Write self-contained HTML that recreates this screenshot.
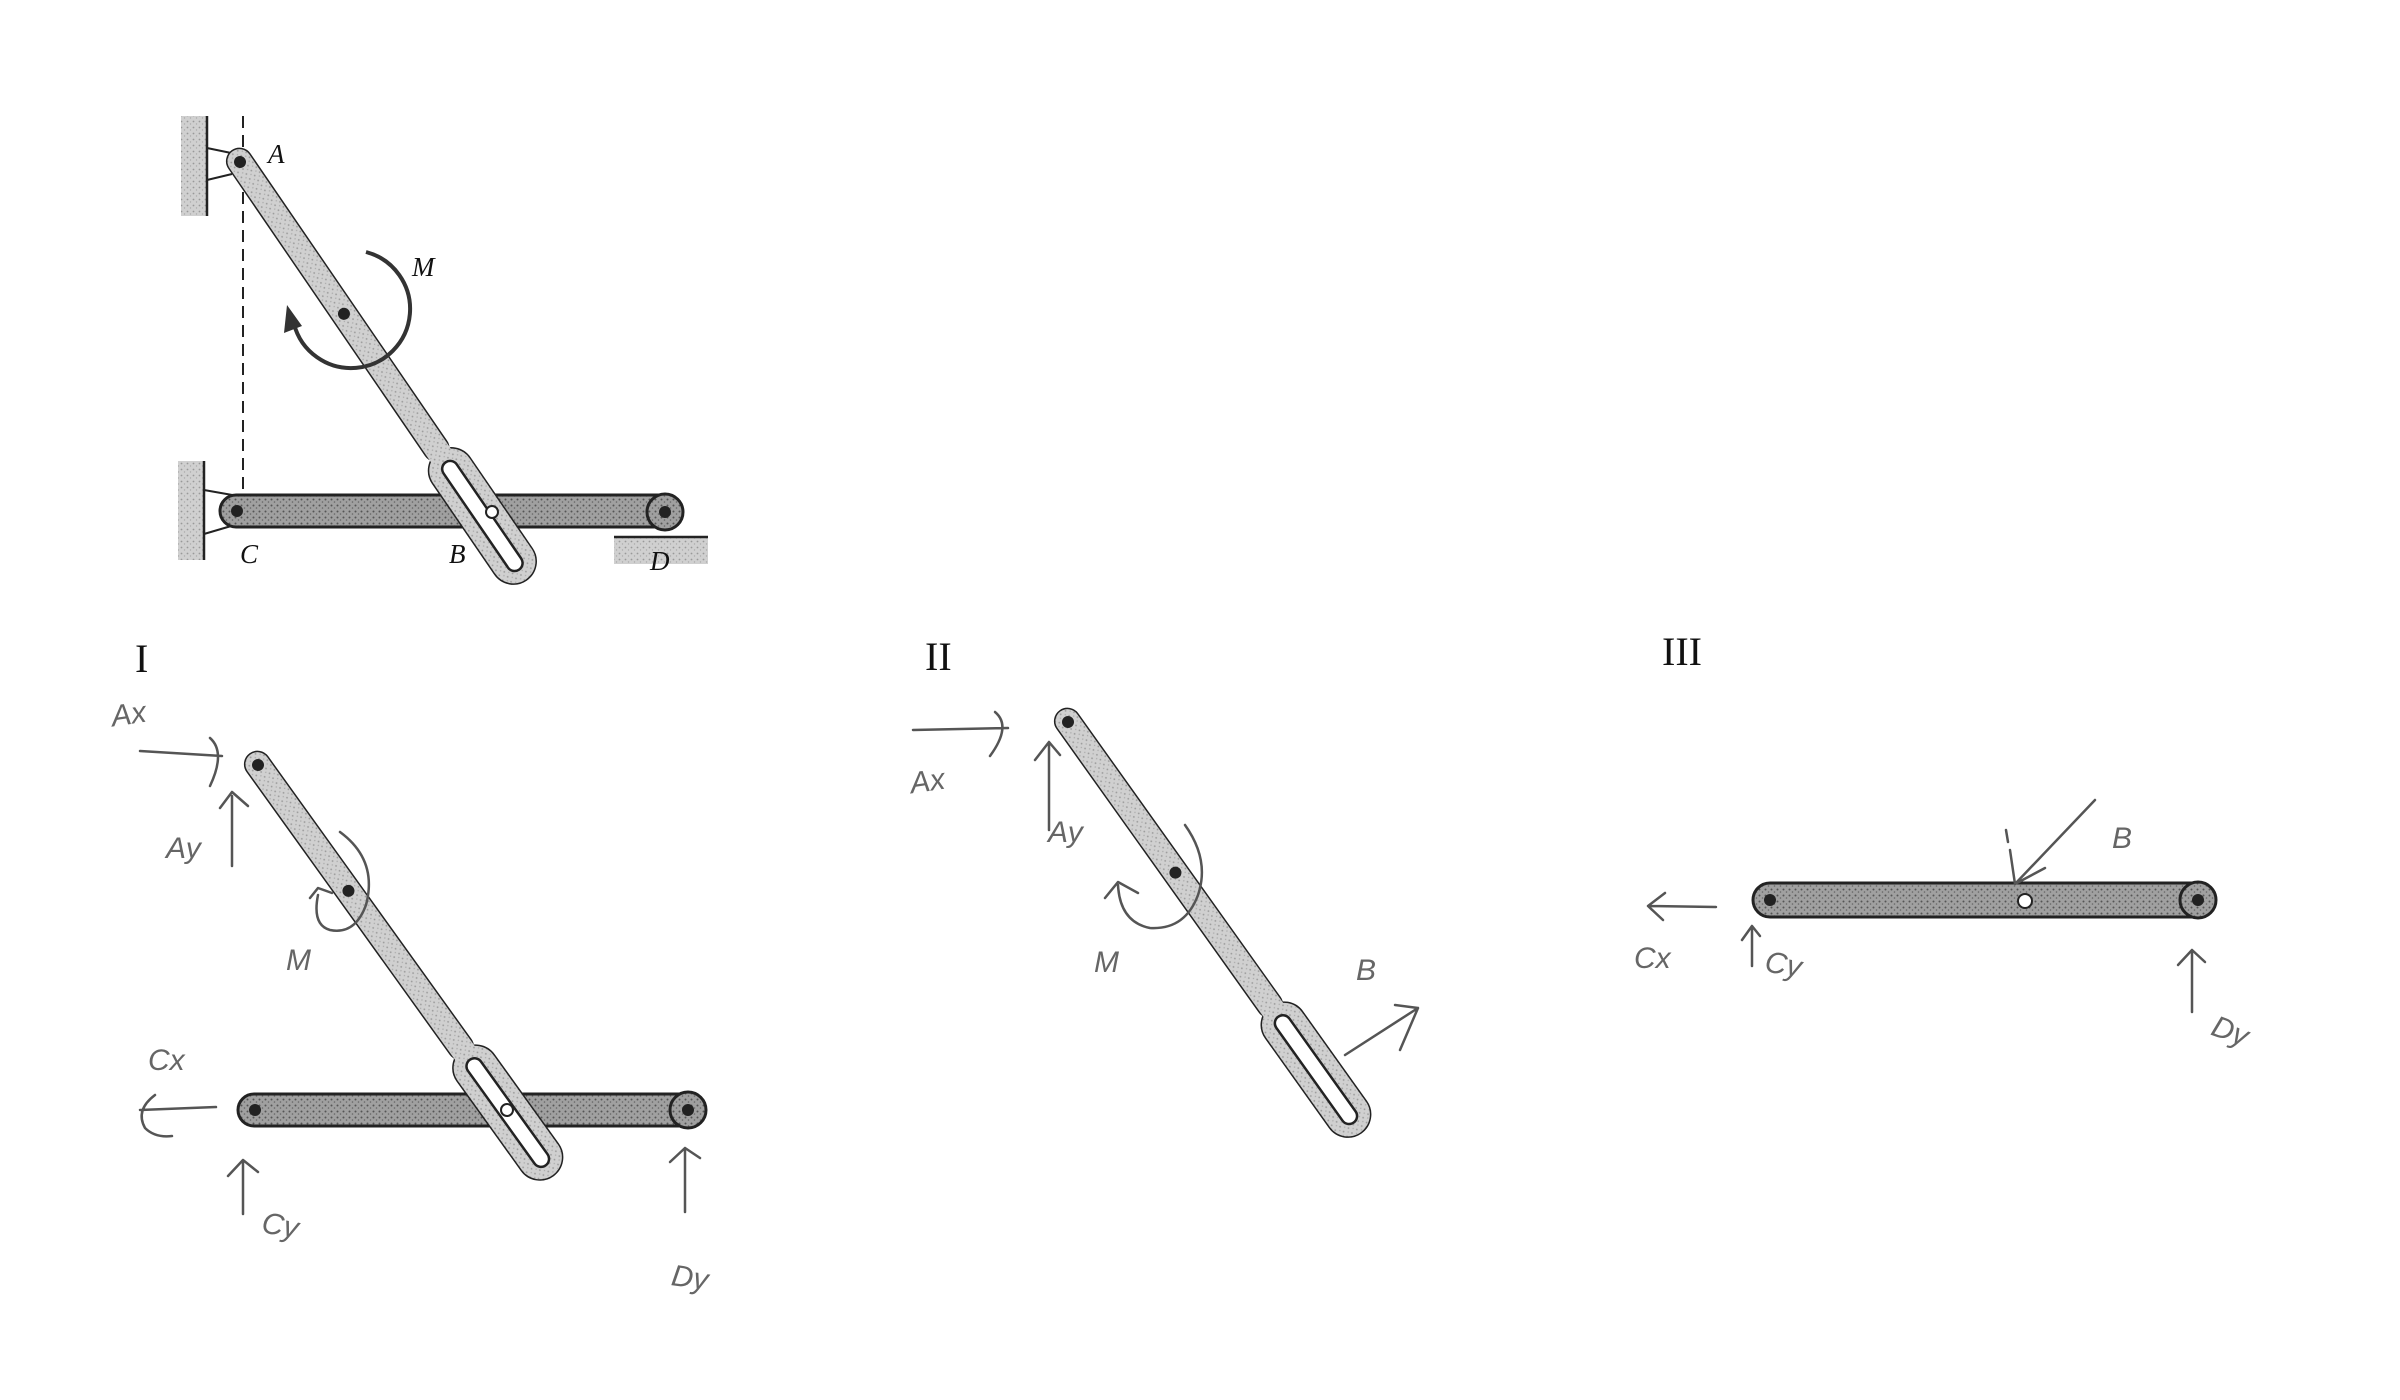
<!DOCTYPE html>
<html><head><meta charset="utf-8"><style>
html,body{margin:0;padding:0;background:#fff;}
svg{display:block}
.lab{font-family:"Liberation Serif",serif;font-style:italic;font-size:27px;fill:#111}
.rom{font-family:"Liberation Serif",serif;font-size:40px;fill:#111}
.hw{font-family:"Liberation Sans",sans-serif;font-style:italic;font-size:30px;fill:#666}
.hl{stroke:#555;stroke-width:2.5;fill:none;stroke-linecap:round;stroke-linejoin:round}
</style></head><body>
<svg width="2400" height="1400" viewBox="0 0 2400 1400" xmlns="http://www.w3.org/2000/svg">
<defs>
<pattern id="tx" width="6" height="6" patternUnits="userSpaceOnUse">
<rect width="6" height="6" fill="#d0d0d0"/><circle cx="1.5" cy="1.5" r="0.9" fill="#999"/><circle cx="4.5" cy="4" r="0.7" fill="#aaa"/>
</pattern>
<pattern id="tb" width="6" height="6" patternUnits="userSpaceOnUse">
<rect width="6" height="6" fill="#a0a0a0"/><circle cx="1.5" cy="1.5" r="1" fill="#555"/><circle cx="4.5" cy="4" r="0.8" fill="#666"/>
</pattern>
</defs>

<!-- ===== TOP FIGURE ===== -->
<rect x="181" y="116" width="26" height="100" fill="url(#tx)"/>
<line x1="207" y1="116" x2="207" y2="216" stroke="#222" stroke-width="2.5"/>
<line x1="207" y1="148" x2="236" y2="154" stroke="#222" stroke-width="2"/>
<line x1="207" y1="180" x2="232" y2="174" stroke="#222" stroke-width="2"/>
<line x1="243" y1="116" x2="243" y2="500" stroke="#222" stroke-width="2" stroke-dasharray="12,7"/>
<rect x="178" y="461" width="26" height="99" fill="url(#tx)"/>
<line x1="204" y1="461" x2="204" y2="560" stroke="#222" stroke-width="2.5"/>
<line x1="204" y1="490" x2="238" y2="496" stroke="#222" stroke-width="2"/>
<line x1="204" y1="534" x2="238" y2="524" stroke="#222" stroke-width="2"/>
<rect x="614" y="538" width="94" height="26" fill="url(#tx)"/>
<line x1="614" y1="537" x2="708" y2="537" stroke="#222" stroke-width="2.5"/>
<rect x="220" y="495" width="462" height="32" rx="16" fill="url(#tb)" stroke="#222" stroke-width="3"/>
<circle cx="665" cy="512" r="18" fill="url(#tb)" stroke="#222" stroke-width="3"/>
<circle cx="237" cy="511" r="6" fill="#222"/><circle cx="665" cy="512" r="6" fill="#222"/>
<g transform="translate(240,162) rotate(55.6)">
<rect x="-13" y="-12" width="372" height="24" rx="12" fill="none" stroke="#222" stroke-width="3"/>
<rect x="352" y="-22" width="154" height="44" rx="22" fill="none" stroke="#222" stroke-width="3"/>
<rect x="-13" y="-12" width="380" height="24" rx="12" fill="url(#tx)"/>
<rect x="352" y="-22" width="154" height="44" rx="22" fill="url(#tx)"/>
<rect x="364" y="-8" width="130" height="16" rx="8" fill="#fff" stroke="#222" stroke-width="2.5"/>
<circle cx="0" cy="0" r="6" fill="#222"/><circle cx="184" cy="0" r="6" fill="#222"/>
</g>
<circle cx="492" cy="512" r="6" fill="#fff" stroke="#222" stroke-width="2"/>
<path d="M366,252 A59,59 0 1 1 294,324" fill="none" stroke="#333" stroke-width="4"/>
<polygon points="287,305 284,333 302,326" fill="#333"/>
<text class="lab" x="268" y="163">A</text>
<text class="lab" x="412" y="276">M</text>
<text class="lab" x="240" y="563">C</text>
<text class="lab" x="449" y="563">B</text>
<text class="lab" x="650" y="570">D</text>

<!-- ===== FIGURE I ===== -->
<text class="rom" x="135" y="672">I</text>
<rect x="238" y="1094" width="467" height="32" rx="16" fill="url(#tb)" stroke="#222" stroke-width="3"/>
<circle cx="688" cy="1110" r="18" fill="url(#tb)" stroke="#222" stroke-width="3"/>
<circle cx="255" cy="1110" r="6" fill="#222"/><circle cx="688" cy="1110" r="6" fill="#222"/>
<g transform="translate(258,765) rotate(54.3)">
<rect x="-13" y="-12" width="372" height="24" rx="12" fill="none" stroke="#222" stroke-width="3"/>
<rect x="351" y="-22" width="154" height="44" rx="22" fill="none" stroke="#222" stroke-width="3"/>
<rect x="-13" y="-12" width="380" height="24" rx="12" fill="url(#tx)"/>
<rect x="351" y="-22" width="154" height="44" rx="22" fill="url(#tx)"/>
<rect x="363" y="-8" width="130" height="16" rx="8" fill="#fff" stroke="#222" stroke-width="2.5"/>
<circle cx="0" cy="0" r="6" fill="#222"/><circle cx="155" cy="0" r="6" fill="#222"/>
</g>
<circle cx="507" cy="1110" r="6" fill="#fff" stroke="#222" stroke-width="2"/>
<path class="hl" d="M140,751 L222,756 M210,738 Q226,752 210,786"/>
<text class="hw" x="112" y="724" transform="rotate(-8 130 720)">Ax</text>
<path class="hl" d="M232,866 L232,796 M220,808 L232,792 L248,806"/>
<text class="hw" x="166" y="858">Ay</text>
<path class="hl" d="M340,832 Q378,860 366,905 Q355,935 330,930 Q312,925 318,895 M310,898 L318,888 L332,893"/>
<text class="hw" x="286" y="970">M</text>
<path class="hl" d="M216,1107 L140,1110 M155,1095 Q135,1110 145,1128 Q155,1138 172,1136"/>
<text class="hw" x="148" y="1070">Cx</text>
<path class="hl" d="M243,1214 L243,1160 M228,1176 L243,1160 L258,1172"/>
<text class="hw" x="262" y="1235" transform="rotate(10 278 1225)">Cy</text>
<path class="hl" d="M685,1212 L685,1148 M670,1162 L685,1148 L700,1158"/>
<text class="hw" x="672" y="1288" transform="rotate(8 693 1275)">Dy</text>

<!-- ===== FIGURE II ===== -->
<text class="rom" x="925" y="670">II</text>
<g transform="translate(1068,722) rotate(54.5)">
<rect x="-13" y="-12" width="372" height="24" rx="12" fill="none" stroke="#222" stroke-width="3"/>
<rect x="350" y="-22" width="154" height="44" rx="22" fill="none" stroke="#222" stroke-width="3"/>
<rect x="-13" y="-12" width="380" height="24" rx="12" fill="url(#tx)"/>
<rect x="350" y="-22" width="154" height="44" rx="22" fill="url(#tx)"/>
<rect x="362" y="-8" width="130" height="16" rx="8" fill="#fff" stroke="#222" stroke-width="2.5"/>
<circle cx="0" cy="0" r="6" fill="#222"/><circle cx="185" cy="0" r="6" fill="#222"/>
</g>
<path class="hl" d="M913,730 L1008,728 M995,712 Q1012,726 990,756"/>
<text class="hw" x="910" y="790" transform="rotate(-8 935 781)">Ax</text>
<path class="hl" d="M1049,830 L1049,745 M1035,760 L1049,742 L1060,755"/>
<text class="hw" x="1048" y="842">Ay</text>
<path class="hl" d="M1185,825 Q1210,860 1198,895 Q1185,930 1150,928 Q1120,922 1118,885 M1105,898 L1118,882 L1138,893"/>
<text class="hw" x="1094" y="972">M</text>
<path class="hl" d="M1345,1055 L1418,1008 M1395,1005 L1418,1008 L1400,1050"/>
<text class="hw" x="1356" y="980">B</text>

<!-- ===== FIGURE III ===== -->
<text class="rom" x="1662" y="665">III</text>
<rect x="1753" y="883" width="462" height="34" rx="17" fill="url(#tb)" stroke="#222" stroke-width="3"/>
<circle cx="2198" cy="900" r="18" fill="url(#tb)" stroke="#222" stroke-width="3"/>
<circle cx="1770" cy="900" r="6" fill="#222"/><circle cx="2198" cy="900" r="6" fill="#222"/>
<circle cx="2025" cy="901" r="7" fill="#fff" stroke="#222" stroke-width="2"/>
<path class="hl" d="M2095,800 L2015,884 M2010,850 L2015,884 L2045,868 M2006,830 L2008,842"/>
<text class="hw" x="2112" y="848" font-size="38">B</text>
<path class="hl" d="M1716,907 L1648,906 M1665,893 L1648,906 L1663,920"/>
<text class="hw" x="1634" y="968">Cx</text>
<path class="hl" d="M1752,966 L1752,928 M1742,940 L1752,926 L1760,936"/>
<text class="hw" x="1764" y="975" transform="rotate(10 1786 971)">Cy</text>
<path class="hl" d="M2192,1012 L2192,950 M2178,965 L2192,950 L2205,962"/>
<text class="hw" x="2210" y="1040" transform="rotate(20 2226 1036)">Dy</text>
</svg>
</body></html>
